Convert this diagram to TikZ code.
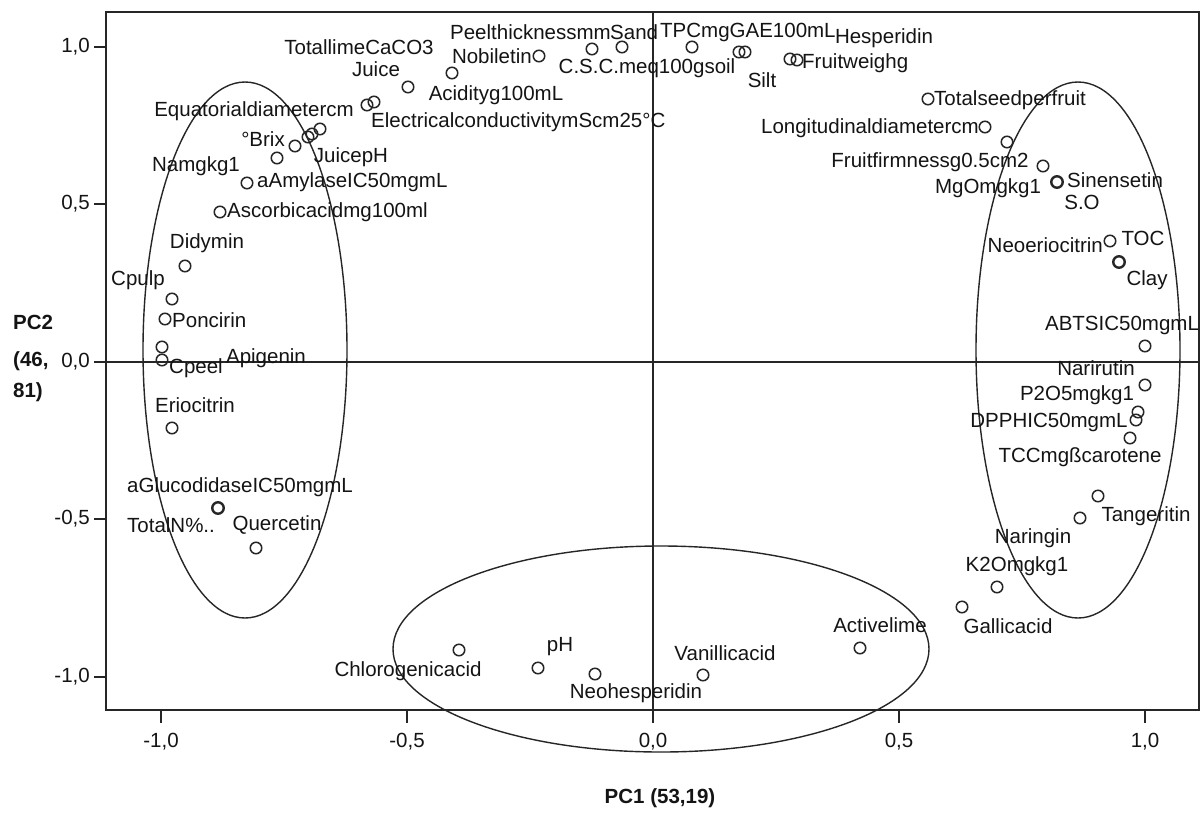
\documentclass[tikz,border=0pt]{standalone}
\usepackage{fontspec}
\setmainfont{Liberation Sans}
\newcommand\labfont{\fontsize{20.5}{24}\selectfont}
\newcommand\titfont{\fontsize{20.5}{24}\selectfont\bfseries}
\begin{document}
\begin{tikzpicture}[x=1pt,y=-1pt,
  lab/.style={font=\labfont,inner sep=0pt,text=black!92},
  tit/.style={font=\titfont,inner sep=0pt,text=black!92},
  pt/.style={circle,draw=black!85,line width=1.5pt,minimum size=11.5pt,inner sep=0pt},
  ptb/.style={pt,line width=2.4pt},
  frame/.style={draw=black!85,line width=2pt},
  zeroline/.style={draw=black!85,line width=2pt},
  ring/.style={draw=black!85,line width=1.4pt},
  tick/.style={draw=black!85,line width=1.6pt}]
\useasboundingbox (0,0) rectangle (1202,812);
\fill[white] (0,0) rectangle (1202,812);
% frame and zero lines
\draw[frame] (106,12) rectangle (1199,710);
\coordinate (hl) at (106,362); \coordinate (hr) at (1199,362);
\coordinate (vt) at (653,12); \coordinate (vb) at (653,710);
\draw[zeroline] (hl) -- (hr);
\draw[zeroline] (vt) -- (vb);
% ticks
\foreach \yy in {47,204,362,519,677} \draw[tick] (94,\yy) -- (106,\yy);
\foreach \xx in {161,407,653,899,1145} \draw[tick] (\xx,710) -- (\xx,723);
\node[lab,anchor=east] (ty1) at (90,47) {1,0};
\node[lab,anchor=east] (ty2) at (90,204) {0,5};
\node[lab,anchor=east] (ty3) at (90,362) {0,0};
\node[lab,anchor=east] (ty4) at (90,519) {-0,5};
\node[lab,anchor=east] (ty5) at (90,677) {-1,0};
\node[lab] (tx1) at (161,742) {-1,0};
\node[lab] (tx2) at (407,742) {-0,5};
\node[lab] (tx3) at (653,742) {0,0};
\node[lab] (tx4) at (899,742) {0,5};
\node[lab] (tx5) at (1145,742) {1,0};
\node[tit,anchor=west] (pc2a) at (13,322) {PC2};
\node[tit,anchor=west] (pc2b) at (13,361) {(46,};
\node[tit,anchor=west] (pc2c) at (13,392) {81)};
\node[tit] (pc1) at (660,798) {PC1 (53,19)};
% ellipses
\draw[ring] (245,350) ellipse [x radius=102, y radius=268];
\draw[ring] (1078,350) ellipse [x radius=102, y radius=268];
\draw[ring] (661,649) ellipse [x radius=268, y radius=103];
% markers
\node[pt] (m1) at (408,87) {};
\node[pt] (m2) at (367,105) {};
\node[pt] (m3) at (374,102) {};
\node[pt] (m4) at (320,129) {};
\node[pt] (m5) at (308,137) {};
\node[pt] (m5b) at (312,134) {};
\node[pt] (m6) at (295,146) {};
\node[pt] (m7) at (277,158) {};
\node[pt] (m8) at (247,183) {};
\node[pt] (m9) at (220,212) {};
\node[pt] (m10) at (185,266) {};
\node[pt] (m11) at (172,299) {};
\node[pt] (m12) at (165,319) {};
\node[pt] (m13) at (162,347) {};
\node[pt] (m14) at (162,360) {};
\node[pt] (m15) at (172,428) {};
\node[ptb] (m16) at (218,508) {};
\node[pt] (m17) at (256,548) {};
\node[pt] (m18) at (539,56) {};
\node[pt] (m19) at (452,73) {};
\node[pt] (m20) at (592,49) {};
\node[pt] (m21) at (622,47) {};
\node[pt] (m22) at (692,47) {};
\node[pt] (m23) at (739,52) {};
\node[pt] (m24) at (745,52) {};
\node[pt] (m25) at (790,59) {};
\node[pt] (m26) at (797,60) {};
\node[pt] (m27) at (928,99) {};
\node[pt] (m28) at (985,127) {};
\node[pt] (m29) at (1007,142) {};
\node[pt] (m30) at (1043,166) {};
\node[ptb] (m31) at (1057,182) {};
\node[pt] (m32) at (1110,241) {};
\node[ptb] (m33) at (1119,262) {};
\node[pt] (m34) at (1145,346) {};
\node[pt] (m35) at (1145,385) {};
\node[pt] (m36) at (1138,412) {};
\node[pt] (m37) at (1136,420) {};
\node[pt] (m38) at (1130,438) {};
\node[pt] (m39) at (1098,496) {};
\node[pt] (m40) at (1080,518) {};
\node[pt] (m41) at (997,587) {};
\node[pt] (m42) at (962,607) {};
\node[pt] (m43) at (860,648) {};
\node[pt] (m44) at (459,650) {};
\node[pt] (m45) at (538,668) {};
\node[pt] (m46) at (595,674) {};
\node[pt] (m47) at (703,675) {};
% labels
\node[lab] (l1) at (359,47) {TotallimeCaCO3};
\node[lab] (l2) at (376,69) {Juice};
\node[lab] (l3) at (254,111) {Equatorialdiametercm};
\node[lab,anchor=west] (l4) at (371,122) {ElectricalconductivitymScm25°C};
\node[lab] (l5) at (263,139) {°Brix};
\node[lab] (l6) at (351,157) {JuicepH};
\node[lab] (l7) at (196,166) {Namgkg1};
\node[lab,anchor=west] (l8) at (257,182) {aAmylaseIC50mgmL};
\node[lab,anchor=west] (l9) at (227,212) {Ascorbicacidmg100ml};
\node[lab] (l10) at (207,243) {Didymin};
\node[lab] (l11) at (138,280) {Cpulp};
\node[lab,anchor=west] (l12) at (172,320) {Poncirin};
\node[lab] (l13) at (266,358) {Apigenin};
\node[lab] (l14) at (196,368) {Cpeel};
\node[lab] (l15) at (195,405) {Eriocitrin};
\node[lab] (l16) at (240,487) {aGlucodidaseIC50mgmL};
\node[lab] (l17) at (171,525) {TotalN\%..};
\node[lab] (l18) at (277,525) {Quercetin};
\node[lab,anchor=east] (l19) at (611,32) {Peelthicknessmm};
\node[lab,anchor=west] (l20) at (610,32) {Sand};
\node[lab,anchor=west] (l21) at (660,32) {TPCmgGAE100mL};
\node[lab] (l22) at (884,38) {Hesperidin};
\node[lab,anchor=east] (l23) at (532,56) {Nobiletin};
\node[lab] (l24) at (647,68) {C.S.C.meq100gsoil};
\node[lab] (l25) at (762,80) {Silt};
\node[lab,anchor=west] (l26) at (802,63) {Fruitweighg};
\node[lab] (l27) at (496,95) {Acidityg100mL};
\node[lab,anchor=west] (l28) at (934,100) {Totalseedperfruit};
\node[lab,anchor=east] (l29) at (979,128) {Longitudinaldiametercm};
\node[lab] (l30) at (930,162) {Fruitfirmnessg0.5cm2};
\node[lab] (l31) at (988,188) {MgOmgkg1};
\node[lab,anchor=west] (l32) at (1067,180) {Sinensetin};
\node[lab] (l33) at (1082,202) {S.O};
\node[lab,anchor=east] (l34) at (1103,245) {Neoeriocitrin};
\node[lab] (l35) at (1143,238) {TOC};
\node[lab] (l36) at (1147,280) {Clay};
\node[lab] (l37) at (1122,325) {ABTSIC50mgmL};
\node[lab] (l38) at (1096,368) {Narirutin};
\node[lab] (l39) at (1077,395) {P2O5mgkg1};
\node[lab] (l40) at (1049,422) {DPPHIC50mgmL};
\node[lab] (l41) at (1080,457) {TCCmgßcarotene};
\node[lab] (l42) at (1146,516) {Tangeritin};
\node[lab] (l43) at (1033,538) {Naringin};
\node[lab] (l44) at (1017,566) {K2Omgkg1};
\node[lab] (l45) at (1008,626) {Gallicacid};
\node[lab] (l46) at (880,625) {Activelime};
\node[lab] (l47) at (408,671) {Chlorogenicacid};
\node[lab] (l48) at (560,647) {pH};
\node[lab] (l49) at (636,693) {Neohesperidin};
\node[lab] (l50) at (725,653) {Vanillicacid};
\end{tikzpicture}
\end{document}
